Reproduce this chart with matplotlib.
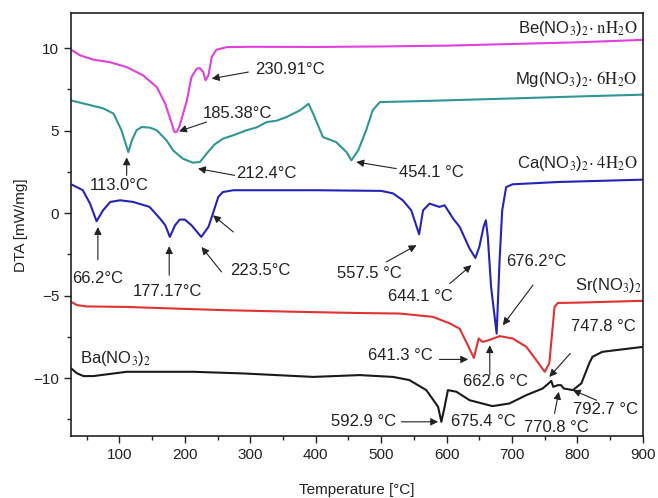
import matplotlib
matplotlib.use("Agg")
import matplotlib.pyplot as plt
from matplotlib.ticker import MultipleLocator

plt.rcParams['font.family'] = ['Liberation Sans', 'DejaVu Sans']
plt.rcParams['mathtext.fontset'] = 'stix'

# DTA traces: temperature (°C) and signal (mW/mg)
be_t = [26, 40, 60, 85, 111, 136, 157, 170, 180, 183, 185, 188, 192, 203, 210, 218, 223, 228, 231.5, 236, 241, 248, 264, 300, 400, 500, 600, 700, 800, 900]
be_v = [9.9, 9.56, 9.3, 9.15, 8.85, 8.35, 7.64, 6.63, 5.42, 5.0, 4.9, 4.95, 5.3, 6.83, 8.24, 8.75, 8.79, 8.55, 8.05, 8.35, 9.46, 9.9, 10.06, 10.08, 10.07, 10.1, 10.15, 10.25, 10.35, 10.5]

mg_t = [26, 75, 91, 103, 113.5, 119, 126, 134, 147, 157, 172, 182, 197, 212, 223, 233, 245, 258, 274, 294, 310, 325, 340, 355, 376, 389, 396, 411, 431, 447, 454.5, 465, 477, 487, 498, 560, 700, 800, 900]
mg_v = [6.83, 6.35, 6.03, 5.02, 3.7, 4.41, 5.02, 5.22, 5.18, 5.02, 4.41, 3.8, 3.3, 3.06, 3.1, 3.6, 4.15, 4.51, 4.72, 5.02, 5.2, 5.52, 5.6, 5.82, 6.23, 6.63, 6.03, 4.61, 4.31, 3.7, 3.2, 3.81, 5.02, 6.23, 6.73, 6.79, 6.95, 7.07, 7.18]

ca_t = [26, 44, 55, 65, 75, 86, 101, 121, 146, 162, 170, 177, 185, 192, 200, 210, 225, 236, 243, 251, 258, 274, 400, 500, 518, 533, 546, 551, 558, 564, 574, 589, 597, 610, 620, 635, 644, 650, 656.5, 660, 663, 668, 676.5, 681, 685, 691, 701, 772, 900]
ca_v = [1.75, 1.39, 0.58, -0.49, 0.18, 0.68, 0.78, 0.68, 0.38, -0.33, -0.73, -1.44, -0.73, -0.39, -0.39, -0.73, -1.44, -0.83, 0.0, 0.98, 1.28, 1.39, 1.39, 1.35, 1.2, 0.78, 0.17, -0.43, -1.28, 0.17, 0.58, 0.38, 0.48, -0.33, -0.83, -2.14, -2.71, -2.05, -0.83, -0.43, -1.44, -4.47, -7.3, -2.85, 0.17, 1.58, 1.75, 1.89, 2.03]

sr_t = [26, 35, 50, 111, 200, 264, 376, 467, 528, 579, 605, 620, 630, 641.7, 649, 655, 665, 681, 701, 722, 737, 750, 757, 765, 770, 800, 900]
sr_v = [-5.37, -5.57, -5.65, -5.68, -5.8, -5.88, -5.98, -6.05, -6.08, -6.28, -6.68, -7.0, -7.8, -8.77, -7.59, -7.8, -7.69, -7.45, -7.59, -8.1, -8.9, -9.61, -9.1, -5.68, -5.44, -5.42, -5.31]

ba_t = [26, 35, 45, 60, 111, 213, 289, 340, 396, 467, 518, 543, 569, 587, 592, 597, 602, 615, 635, 670, 696, 722, 747, 756, 760, 763, 770, 775, 779, 793, 806, 818, 823, 838, 900]
ba_v = [-9.4, -9.7, -9.87, -9.87, -9.61, -9.61, -9.71, -9.81, -9.92, -9.81, -9.92, -10.11, -10.72, -11.73, -12.64, -11.73, -10.72, -10.82, -11.33, -11.69, -11.53, -11.02, -10.62, -10.31, -10.16, -10.52, -10.42, -10.42, -10.62, -10.72, -10.31, -9.1, -8.7, -8.4, -8.1]

series = [
    (be_t, be_v, '#e040e0'),
    (mg_t, mg_v, '#2f9696'),
    (ca_t, ca_v, '#2424b8'),
    (sr_t, sr_v, '#e03232'),
    (ba_t, ba_v, '#1a1a1a'),
]

# Peak labels: text, text anchor (x, y), arrow tail, arrow head
peaks = [
    ('230.91°C', (307, 8.71), (297, 8.55), (241, 8.15)),
    ('185.38°C', (228, 6.03), (233, 5.52), (191, 4.96)),
    ('113.0°C', (55, 1.69), (111, 2.29), (111, 3.38)),
    ('212.4°C', (279, 2.40), (276, 2.29), (220, 2.70)),
    ('454.1 °C', (528, 2.49), (523, 2.70), (462, 3.10)),
    ('66.2°C', (27, -3.96), (67, -2.81), (67, -0.84)),
    ('177.17°C', (121, -4.77), (176, -3.76), (176, -2.0)),
    ('223.5°C', (269, -3.46), (256, -3.56), (225.5, -2.05)),
    ('', None, (274, -1.14), (243, -0.13)),
    ('557.5 °C', (432, -3.66), (508, -2.95), (554, -1.94)),
    ('644.1 °C', (510, -5.07), (605, -4.26), (638, -3.15)),
    ('676.2°C', (691, -2.95), (732, -4.36), (686, -6.79)),
    ('747.8 °C', (790, -6.89), (789, -8.5), (757, -9.92)),
    ('641.3 °C', (480, -8.6), (589, -8.86), (633, -8.86)),
    ('662.6 °C', (625, -10.22), (666, -9.81), (666, -8.0)),
    ('592.9 °C', (424, -12.6), (531, -12.64), (587, -12.64)),
    ('675.4 °C', (607, -12.64), None, None),
    ('770.8 °C', (719, -12.98), (765, -12.13), (771.5, -10.82)),
    ('792.7 °C', (793, -11.89), (829, -11.33), (793, -10.72)),
]

names = [
    (r'Be(NO$_3$)$_2$$\cdot\ \mathrm{nH_2O}$', (892, 11.19), 'right'),
    (r'Mg(NO$_3$)$_2$$\cdot\ \mathrm{6H_2O}$', (892, 8.15), 'right'),
    (r'Ca(NO$_3$)$_2$$\cdot\ \mathrm{4H_2O}$', (892, 3.02), 'right'),
    (r'Sr(NO$_3$)$_2$', (899, -4.36), 'right'),
    (r'Ba(NO$_3$)$_2$', (40, -8.78), 'left'),
]

fig = plt.figure(figsize=(6.58, 4.98), dpi=100)
ax = fig.add_axes([0.108, 0.1245, 0.869, 0.8485])

for t, v, c in series:
    ax.plot(t, v, color=c, lw=1.5, solid_joinstyle='round')

for label, tpos, tail, head in peaks:
    if label:
        ax.text(tpos[0], tpos[1], label, fontsize=12, color='#222222',
                ha='left', va='center')
    if tail is not None:
        ax.annotate('', xy=head, xytext=tail,
                    arrowprops=dict(arrowstyle='-|>', color='#222222', lw=0.8,
                                    mutation_scale=11, shrinkA=0, shrinkB=0))

for label, pos, ha in names:
    ax.text(pos[0], pos[1], label, fontsize=12, color='#222222', ha=ha, va='center')

ax.set_xlim(26, 900)
ax.set_ylim(-13.5, 12.1)
ax.xaxis.set_major_locator(MultipleLocator(100))
ax.xaxis.set_minor_locator(MultipleLocator(50))
ax.yaxis.set_major_locator(MultipleLocator(5))
ax.yaxis.set_minor_locator(MultipleLocator(2.5))
ax.tick_params(which='both', direction='out', top=False, right=False,
               labelsize=11, width=1.0, colors='#222222')
ax.tick_params(which='major', length=5)
ax.tick_params(which='minor', length=3)
ax.set_xticks(range(100, 901, 100))
for s in ax.spines.values():
    s.set_linewidth(1.2)
    s.set_color('#222222')

ax.set_xlabel('Temperature [°C]', fontsize=11, color='#222222', labelpad=15)
ax.set_ylabel('DTA [mW/mg]', fontsize=11, color='#222222', labelpad=4)

fig.savefig('out.png', dpi=100)
